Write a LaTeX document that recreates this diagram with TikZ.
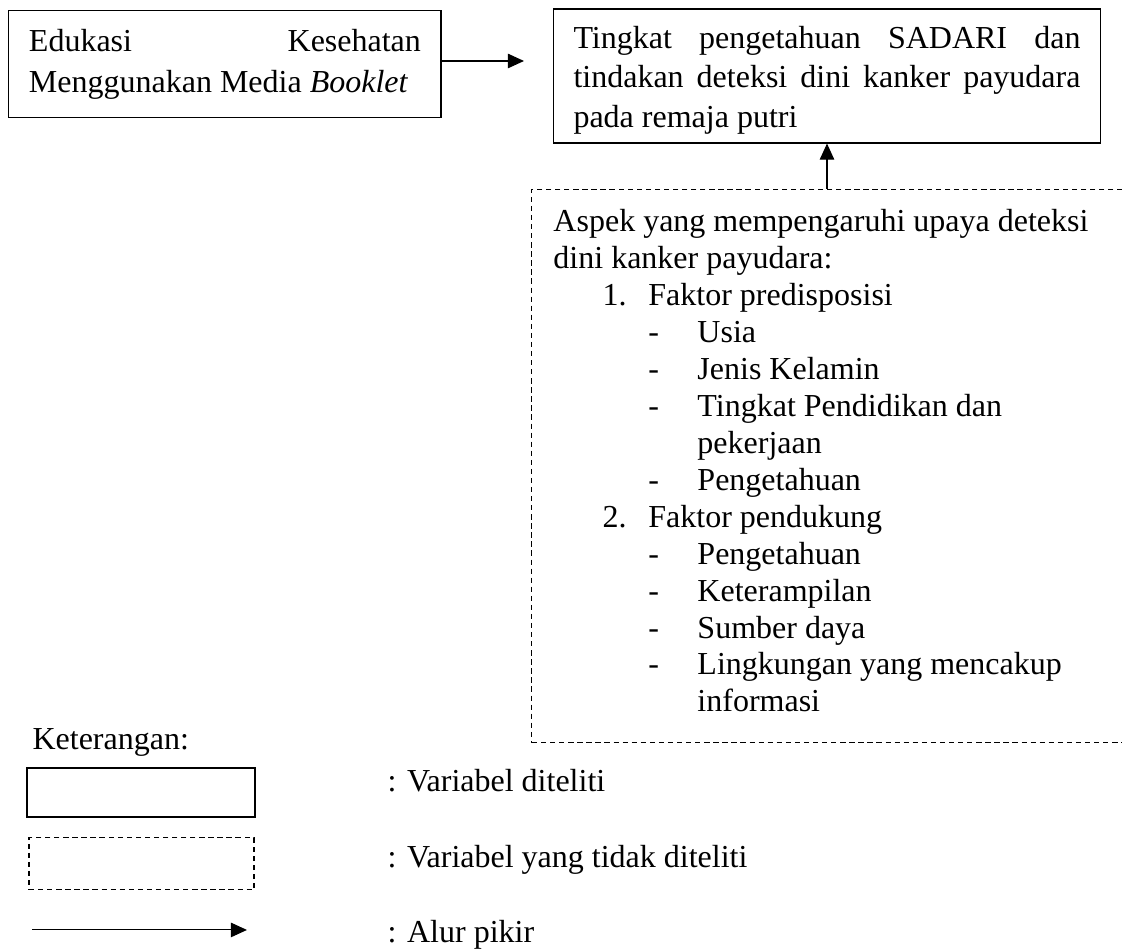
\documentclass[tikz,border=0pt]{standalone}
\usepackage{fontspec}
\setmainfont{Liberation Serif}
\usetikzlibrary{arrows.meta}

\newcommand{\butir}[2]{\hspace*{18.4pt}\makebox[17.2pt][l]{#1}#2}
\newcommand{\tanda}[1]{\hspace*{35.6pt}\makebox[18.4pt][l]{-}#1}
\newcommand{\lanjut}[1]{\hspace*{54pt}#1}
\hyphenpenalty=10000

\begin{document}
\begin{tikzpicture}[
    kotak/.style={rectangle, draw, inner xsep=0.264cm, inner ysep=0pt, align=justify},
    kotakputus/.style={rectangle, draw, dash pattern=on 2pt off 1.4pt},
    teks/.style={inner sep=0pt, anchor=base west, font=\fontsize{12pt}{14.4pt}\selectfont},
    arrow/.style={->, >={Triangle[length=6pt, width=5.4pt]}}
  ]
  \useasboundingbox (0,0) rectangle (14.788,-12.534);

  % Variabel diteliti
  \node[kotak, text width=5.166cm, minimum width=5.69cm, minimum height=1.40cm, font=\fontsize{12pt}{15.4pt}\selectfont] (edukasi) at (2.965,-0.843) {Edukasi Kesehatan Menggunakan Media \textit{Booklet}};
  \node[kotak, text width=6.682cm, minimum width=7.22cm, minimum height=1.766cm, font=\fontsize{12pt}{14.8pt}\selectfont] (tingkat) at (10.900,-1.002) {\rule{0pt}{11.2pt}Tingkat pengetahuan SADARI dan tindakan deteksi dini kanker payudara pada remaja putri};

  % Variabel yang tidak diteliti
  \node[kotakputus, minimum width=7.83cm, minimum height=7.30cm] (aspek) at (10.926,-6.142) {};
  \node[teks, anchor=north west, align=left, font=\fontsize{12pt}{13.85pt}\selectfont] (faktor) at (7.288,-2.755) {Aspek yang mempengaruhi upaya deteksi\\
    dini kanker payudara:\\
    \butir{1.}{Faktor predisposisi}\\
    \tanda{Usia}\\
    \tanda{Jenis Kelamin}\\
    \tanda{Tingkat Pendidikan dan}\\
    \lanjut{pekerjaan}\\
    \tanda{Pengetahuan}\\
    \butir{2.}{Faktor pendukung}\\
    \tanda{Pengetahuan}\\
    \tanda{Keterampilan}\\
    \tanda{Sumber daya}\\
    \tanda{Lingkungan yang mencakup}\\
    \lanjut{informasi}};

  % Alur pikir
  \coordinate (ujung) at (6.906,-0.804);
  \draw[arrow] (edukasi.east |- ujung) -- (ujung);
  \draw[arrow] (aspek.north -| tingkat.south) -- (tingkat.south);

  % Keterangan
  \node[teks] (keterangan) at (0.422,-9.872) {Keterangan:};
  \node[rectangle, draw, line width=0.75pt, minimum width=3.0cm, minimum height=0.646cm] (contohkotak) at (1.858,-10.445) {};
  \node[kotakputus, minimum width=2.965cm, minimum height=0.685cm] (contohputus) at (1.865,-11.387) {};
  \coordinate (awalpanah) at (0.422,-12.257);
  \coordinate (akhirpanah) at (3.255,-12.257);
  \draw[arrow] (awalpanah) -- (akhirpanah);
  \node[teks] (ket1) at (5.101,-10.438) {: Variabel diteliti};
  \node[teks] (ket2) at (5.101,-11.440) {: Variabel yang tidak diteliti};
  \node[teks] (ket3) at (5.101,-12.428) {: Alur pikir};

\end{tikzpicture}
\end{document}
